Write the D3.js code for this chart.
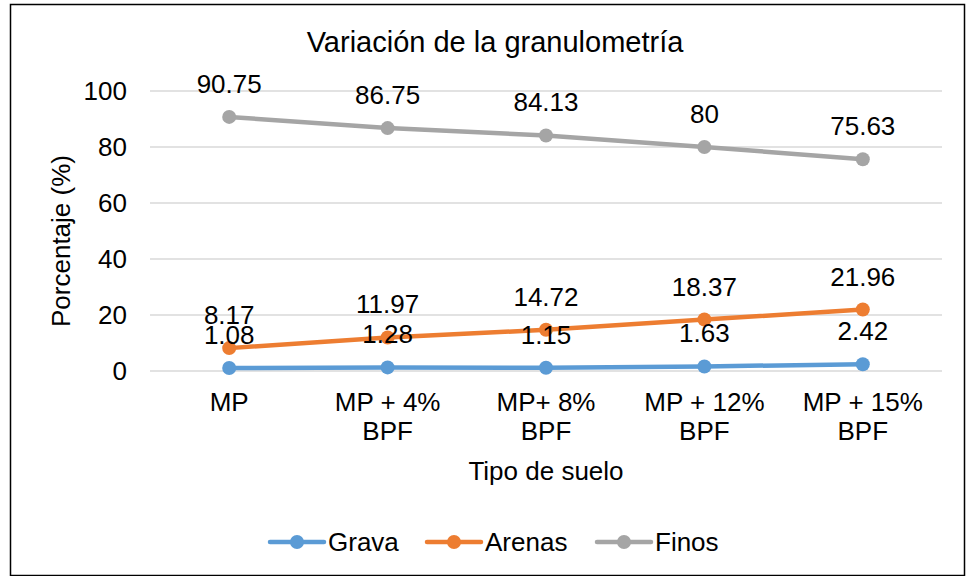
<!DOCTYPE html>
<html>
<head>
<meta charset="utf-8">
<script src="https://cdn.jsdelivr.net/npm/d3@7"></script>
<style>
  body { margin: 0; background: #fff; }
  text { font-family: "Liberation Sans", Arial, sans-serif; fill: #000; }
</style>
</head>
<body>
<svg id="chart" width="966" height="576"></svg>
<script>
// Chart data
const categories = [["MP"], ["MP + 4%", "BPF"], ["MP+ 8%", "BPF"], ["MP + 12%", "BPF"], ["MP + 15%", "BPF"]];
const grava = [1.08, 1.28, 1.15, 1.63, 2.42];
const arenas = [8.17, 11.97, 14.72, 18.37, 21.96];
const finos = [90.75, 86.75, 84.13, 80, 75.63];
const yTicks = [0, 20, 40, 60, 80, 100];

const series = [
  { name: "Grava", values: grava, color: "#5B9BD5" },
  { name: "Arenas", values: arenas, color: "#ED7D31" },
  { name: "Finos", values: finos, color: "#A5A5A5" }
];

const FONT = 26;
const svg = d3.select("#chart");
const plot = { left: 150, right: 942, top: 91, bottom: 371 };

// outer border
svg.append("rect")
  .attr("x", 10.5).attr("y", 4.5)
  .attr("width", 954).attr("height", 571)
  .attr("fill", "#fff").attr("stroke", "#000").attr("stroke-width", 1.5);

const xScale = d3.scaleBand()
  .domain(categories.map((d, i) => i))
  .range([plot.left, plot.right]);
const yScale = d3.scaleLinear()
  .domain([0, 100])
  .range([plot.bottom, plot.top]);

// gridlines
svg.append("g")
  .selectAll("line")
  .data(yTicks)
  .join("line")
  .attr("x1", plot.left).attr("x2", plot.right)
  .attr("y1", d => yScale(d)).attr("y2", d => yScale(d))
  .attr("stroke", "#D9D9D9").attr("stroke-width", 1.3);

// y axis labels
const yAxis = d3.axisLeft(yScale).tickValues(yTicks).tickSize(0).tickPadding(0);
const gy = svg.append("g")
  .attr("transform", `translate(${plot.left - 23},0)`)
  .call(yAxis);
gy.select(".domain").remove();
gy.selectAll("text")
  .style("font-family", "Liberation Sans, Arial, sans-serif")
  .attr("font-size", FONT).attr("fill", "#000");

// x axis labels (two lines)
const gx = svg.append("g");
categories.forEach((lines, i) => {
  const t = gx.append("text")
    .attr("x", xScale(i) + xScale.bandwidth() / 2)
    .attr("y", 411)
    .attr("text-anchor", "middle")
    .attr("font-size", FONT);
  lines.forEach((l, j) => {
    t.append("tspan")
      .attr("x", xScale(i) + xScale.bandwidth() / 2)
      .attr("dy", j === 0 ? 0 : 29)
      .text(l);
  });
});

// titles
svg.append("text")
  .attr("x", 495).attr("y", 52)
  .attr("text-anchor", "middle").attr("font-size", 29)
  .text("Variación de la granulometría");
svg.append("text")
  .attr("x", (plot.left + plot.right) / 2).attr("y", 480)
  .attr("text-anchor", "middle").attr("font-size", FONT)
  .text("Tipo de suelo");
svg.append("text")
  .attr("transform", `translate(70,${(plot.top + plot.bottom) / 2 + 10}) rotate(-90)`)
  .attr("text-anchor", "middle").attr("font-size", FONT)
  .text("Porcentaje (%)");

// lines, markers and data labels
const cx = i => xScale(i) + xScale.bandwidth() / 2;
const line = d3.line().x((d, i) => cx(i)).y(d => yScale(d));

series.forEach(s => {
  const g = svg.append("g");
  g.append("path")
    .datum(s.values)
    .attr("d", line)
    .attr("fill", "none")
    .attr("stroke", s.color)
    .attr("stroke-width", 4.5)
    .attr("stroke-linecap", "round");
  g.selectAll("circle")
    .data(s.values)
    .join("circle")
    .attr("cx", (d, i) => cx(i))
    .attr("cy", d => yScale(d))
    .attr("r", 7)
    .attr("fill", s.color);
});

series.forEach(s => {
  svg.append("g")
    .selectAll("text")
    .data(s.values)
    .join("text")
    .attr("x", (d, i) => cx(i))
    .attr("y", d => yScale(d) - 24)
    .attr("text-anchor", "middle")
    .attr("font-size", FONT)
    .text(d => d);
});

// legend
const legendX = [270, 427, 597];
const legend = svg.append("g");
series.forEach((s, i) => {
  const g = legend.append("g").attr("transform", `translate(${legendX[i]},542)`);
  g.append("line")
    .attr("x1", 0).attr("x2", 54)
    .attr("stroke", s.color).attr("stroke-width", 4.5)
    .attr("stroke-linecap", "round");
  g.append("circle").attr("cx", 27).attr("r", 7).attr("fill", s.color);
  g.append("text")
    .attr("x", 58).attr("y", 9)
    .attr("font-size", FONT)
    .text(s.name);
});
</script>
</body>
</html>
